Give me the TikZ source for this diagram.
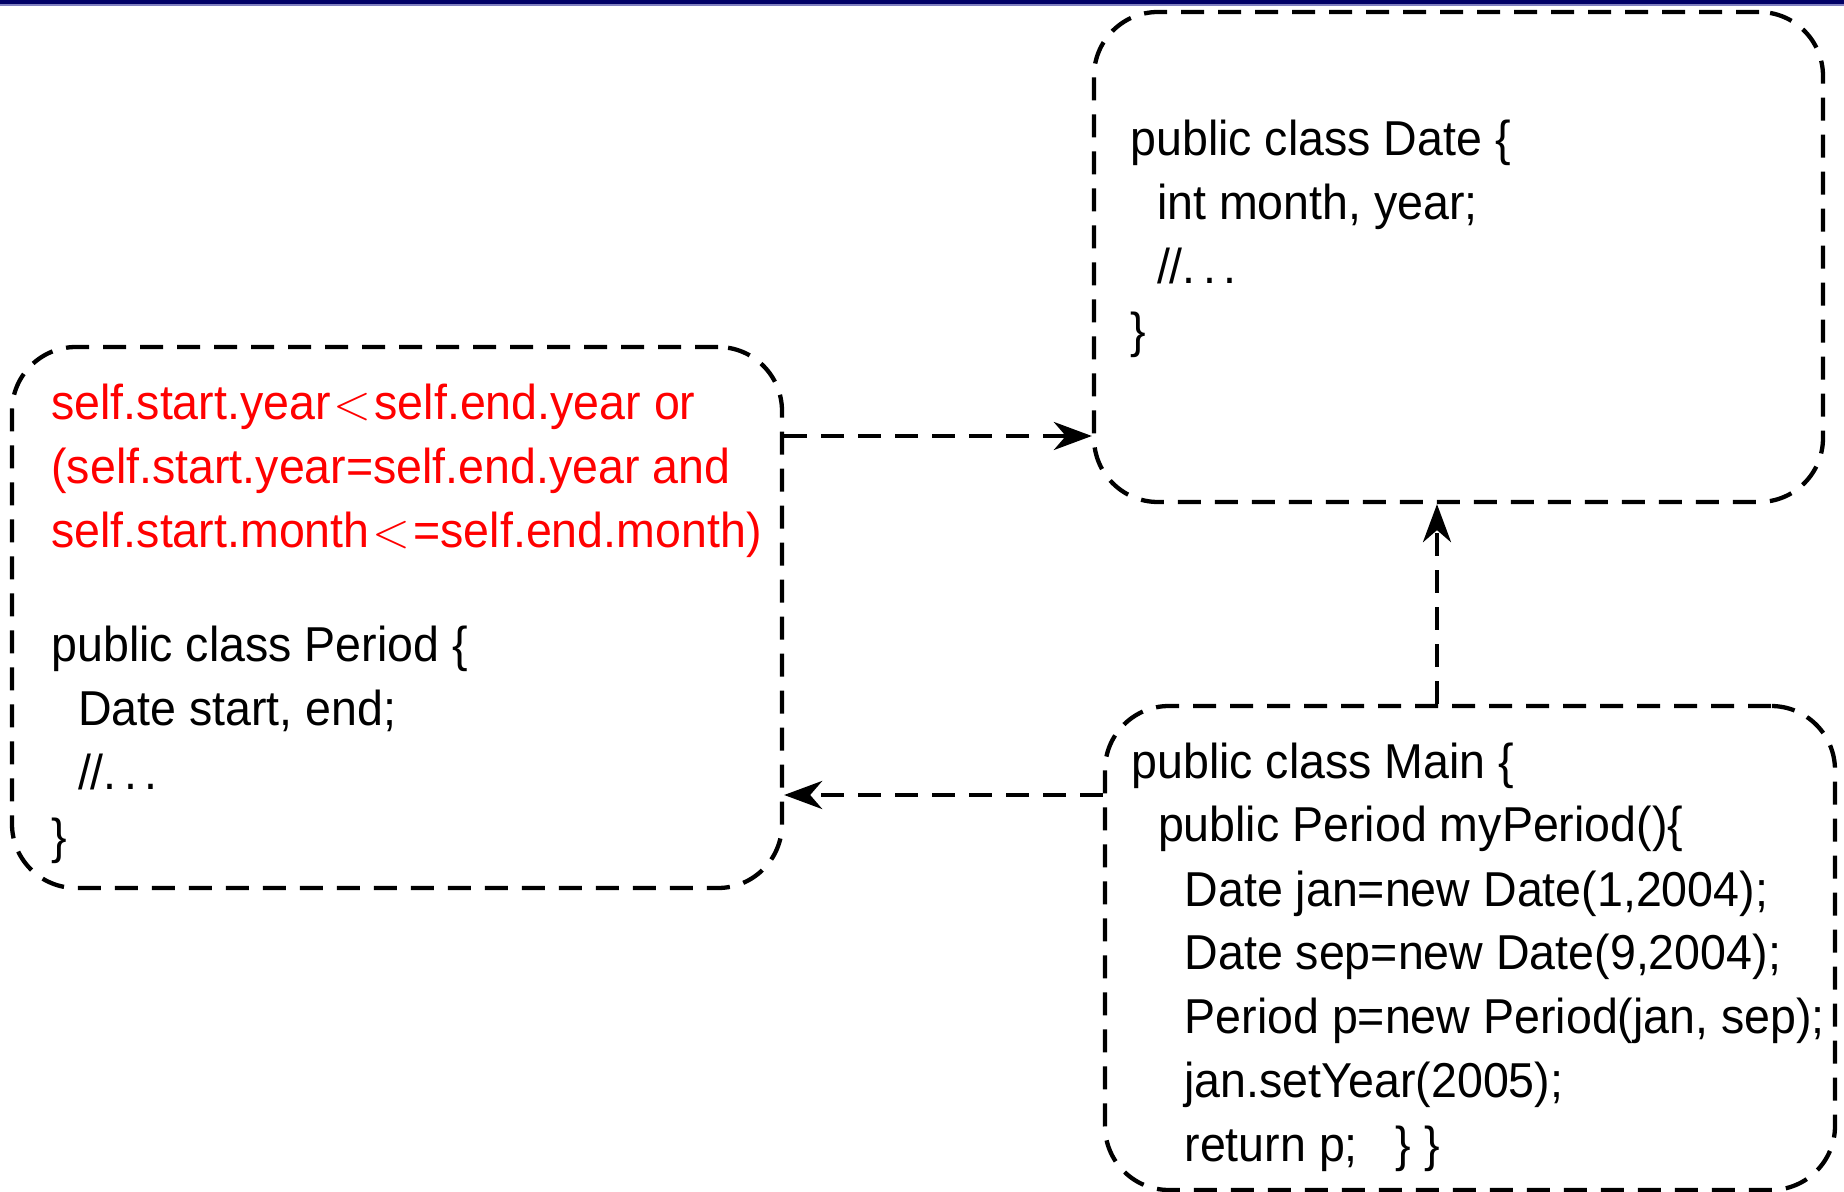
\documentclass[tikz,border=0pt]{standalone}
\usepackage{fontspec}
\setmainfont{Liberation Sans}[FakeStretch=0.95]
\usetikzlibrary{arrows.meta}
\definecolor{barnavy}{RGB}{0,0,102}
\definecolor{barline}{RGB}{128,128,192}
% one indentation step of the code listings
\newcommand\codeind{\hspace*{13.3pt}}
% spaced ellipsis as in "//. . ."
\newcommand\codedots{.\kern.15em.\kern.15em.}
% less-than sign of the invariant
\newcommand\lessthan{\kern1.5pt$<$\kern1.5pt}
\begin{document}
\begin{tikzpicture}[x=0.5pt,y=-0.5pt,
  box/.style={draw, line width=2.15pt, dash pattern=on 11.5pt off 7pt,
    rounded corners=32pt, inner sep=0pt},
  code/.style={anchor=base west, inner sep=0pt,
    font=\fontsize{24.5pt}{32pt}\selectfont},
  link/.style={line width=2.15pt, dash pattern=on 11.5pt off 7pt,
    -{Stealth[length=19pt,width=14pt,inset=6pt]}}]
\useasboundingbox (0,0) rectangle (1844,1192);

% title bar along the top edge
\fill[barnavy] (0,0) rectangle (1844,4.5);
\fill[barline] (0,4.5) rectangle (1844,6);

% class boxes
\node[box, minimum width=364.5pt, minimum height=245pt] (date) at (1458.5,257) {};
\node[box, minimum width=385pt, minimum height=270.5pt] (period) at (397,617.5) {};
\node[box, minimum width=365pt, minimum height=242pt] (main) at (1470,948) {};

% class Date
\node[code] (datecode) at (1130,156) {\begin{tabular}[t]{@{}l@{}}
public class Date \{\\
\codeind int month, year;\\
\codeind //\codedots\\
\}
\end{tabular}};

% invariant of Period
\node[code, text=red] (inv) at (51,420) {\begin{tabular}[t]{@{}l@{}}
self.start.year\lessthan self.end.year or\\
(self.start.year=self.end.year and\\
self.start.month\lessthan=self.end.month)
\end{tabular}};

% class Period
\node[code] (periodcode) at (51,662) {\begin{tabular}[t]{@{}l@{}}
public class Period \{\\
\codeind Date start, end;\\
\codeind //\codedots\\
\}
\end{tabular}};

% class Main
\node[code] (maincode) at (1131,778) {\begin{tabular}[t]{@{}l@{}}
public class Main \{\\
\codeind public Period myPeriod()\{\\
\codeind\codeind Date jan=new Date(1,2004);\\
\codeind\codeind Date sep=new Date(9,2004);\\
\codeind\codeind Period p=new Period(jan, sep);\\
\codeind\codeind jan.setYear(2005);\\
\codeind\codeind return p;\hspace*{19pt}\} \}
\end{tabular}};

% dependencies
\draw[link] (period.east |- 0,436) -- (date.west |- 0,436);
\draw[link] (main.north -| 1437,0) -- (date.south -| 1437,0);
\draw[link] (main.west |- 0,795) -- (period.east |- 0,795);
\end{tikzpicture}
\end{document}
